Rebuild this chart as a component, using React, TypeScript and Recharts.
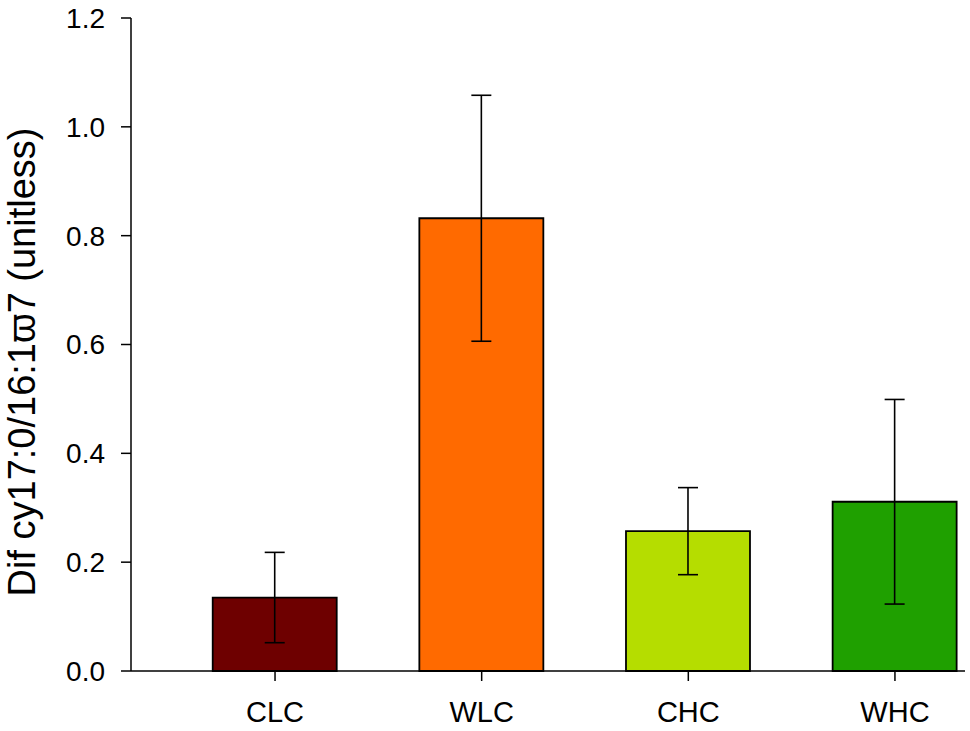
import { BarChart, Bar, XAxis, YAxis, Cell, ErrorBar, Label } from "recharts";

const categories = ["CLC", "WLC", "CHC", "WHC"];
const means = [0.135, 0.832, 0.257, 0.311];
const errors = [0.083, 0.226, 0.08, 0.188];
const colors = ["#6e0000", "#ff6a00", "#b5dd00", "#1fa000"];
const yTicks = [0, 0.2, 0.4, 0.6, 0.8, 1.0, 1.2];

const data = categories.map((name, i) => ({ idx: i, name, mean: means[i], err: errors[i] }));

const FONT = "'Liberation Sans', Arial, sans-serif";
const yLabel = "Dif cy17:0/16:1\u03d67 (unitless)";

export default function App() {
  return (
    <div style={{ width: 970, height: 731, background: "#fff" }}>
      <style>{"body{margin:0}"}</style>
      <BarChart
        width={970}
        height={731}
        data={data}
        margin={{ top: 18, right: 5, bottom: 0, left: 0 }}
        style={{ fontFamily: FONT }}
      >
        <XAxis
          dataKey="idx"
          type="number"
          domain={[-0.697, 3.339]}
          allowDataOverflow
          ticks={[0, 1, 2, 3]}
          tickFormatter={(v: number) => categories[v] ?? ""}
          height={60}
          stroke="#000"
          strokeWidth={1.5}
          tickSize={10}
          tickMargin={20}
          tick={{ fill: "#000", fontSize: 29, fontFamily: FONT }}
        />
        <YAxis
          type="number"
          domain={[0, 1.2]}
          ticks={yTicks}
          tickFormatter={(v: number) => v.toFixed(1)}
          width={131}
          stroke="#000"
          strokeWidth={1.5}
          tickSize={10}
          tickMargin={16}
          tick={{ fill: "#000", fontSize: 28, fontFamily: FONT }}
        >
          <Label
            content={() => (
              <text
                x={22}
                y={362}
                transform="rotate(-90 22 362)"
                textAnchor="middle"
                dominantBaseline="central"
                fill="#000"
                fontSize={38}
                fontFamily={FONT}
              >
                {yLabel}
              </text>
            )}
          />
        </YAxis>
        <Bar dataKey="mean" barSize={124} stroke="#000" strokeWidth={1.8} isAnimationActive={false}>
          {data.map((d, i) => (
            <Cell key={d.name} fill={colors[i]} />
          ))}
          <ErrorBar dataKey="err" width={10} stroke="#000" strokeWidth={1.6} direction="y" />
        </Bar>
      </BarChart>
    </div>
  );
}
